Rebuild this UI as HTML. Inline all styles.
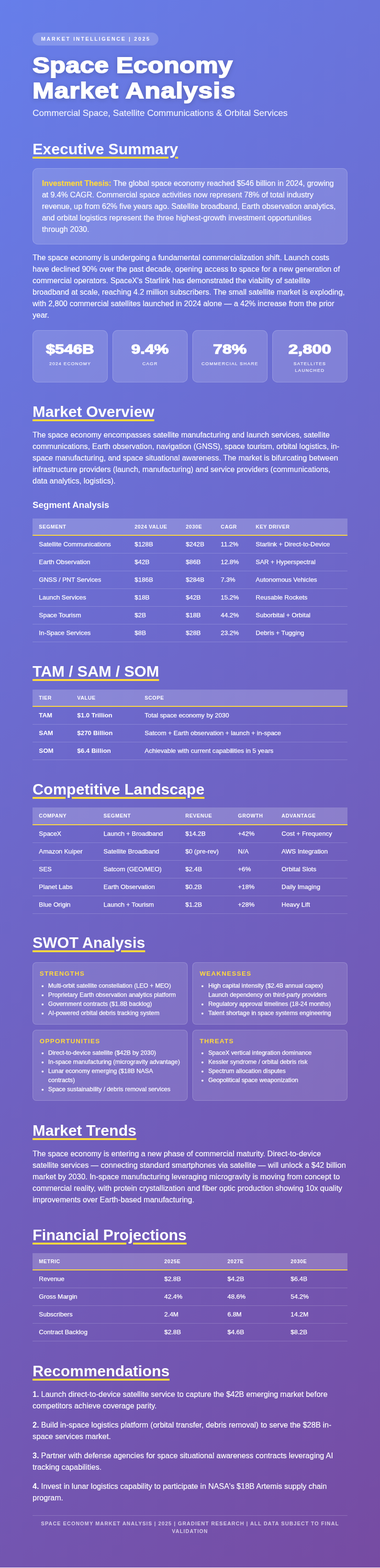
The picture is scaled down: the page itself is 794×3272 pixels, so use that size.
<!DOCTYPE html>
<html lang="en">
<head>
<meta charset="utf-8">
<title>Space Economy Market Analysis</title>
<style>
*{box-sizing:border-box;margin:0;padding:0}
html,body{background:#fff}
html{height:3272px}
body{font-family:"Liberation Sans",Arial,Helvetica,sans-serif;font-size:16px;line-height:24px;color:#fff;width:794px;height:3272px;overflow:hidden;-webkit-text-stroke:.15px #fff}
b,h2,h3,h4,th,td.b,.badge,.footer{-webkit-text-stroke:0}
.thesis b{-webkit-text-stroke:.2px #ffd93d}
.subtitle{-webkit-text-stroke:.15px rgba(255,255,255,.9)}
td,.sw li{-webkit-text-stroke:.25px #fff}
td.b{-webkit-text-stroke:0}
.page{width:794px;height:3271px;padding:68px 68px 0;background:linear-gradient(135deg,#667eea 0%,#764ba2 100%);overflow:hidden}
.badge{display:block;width:263px;height:27px;background:rgba(255,255,255,.2);padding:5px 0 0 18px;border-radius:14px;font-size:10.67px;line-height:16px;letter-spacing:2.67px;text-transform:uppercase;font-weight:700;white-space:nowrap}
h1{font-size:46px;font-weight:700;line-height:53px;height:106px;-webkit-text-stroke:2px #fff;text-shadow:0 2px 10px rgba(0,0,0,.25);margin-top:15px;transform:scaleX(1.165);transform-origin:0 50%;white-space:nowrap}
h1 .a{letter-spacing:.27px}
h1 .b{letter-spacing:1.05px}
.subtitle{font-size:18.67px;line-height:28px;height:28px;color:rgba(255,255,255,.9);margin-top:6px}
h2{font-size:32px;line-height:48px;height:48px;font-weight:700;margin-top:37px;text-decoration:underline;text-decoration-color:#ffd93d;text-decoration-thickness:4px;text-underline-offset:5px}
h2.m36{margin-top:36px}
h2.m38{margin-top:38px}
h3{font-size:18.67px;line-height:28px;height:28px;font-weight:700;margin-top:24px}
p{margin-top:16px}
h2+p{margin-top:13px}
.thesis{background:rgba(255,255,255,.15);border:1px solid rgba(255,255,255,.2);border-radius:10.67px;padding:19px 18.67px 18px;margin-top:16px;height:159px}
.thesis b{color:#ffd93d}
.stats{display:flex;gap:9.5px;margin-top:19px;height:109px}
.stat{flex:1 1 0;background:rgba(255,255,255,.15);border:1px solid rgba(255,255,255,.2);border-radius:10.67px;text-align:center;padding:17px 17.3px 0;height:109px}
.stat .v{font-size:28px;font-weight:700;line-height:41px;height:41px;-webkit-text-stroke:1.4px #fff;transform:scaleX(1.22);white-space:nowrap;position:relative;top:1px}
.stat .v.s2{transform:scaleX(1.225)}
.stat .v.s3{transform:scaleX(1.25)}
.stat .v.s4{transform:scaleX(1.275)}
.stat .l{font-size:9.33px;line-height:14px;letter-spacing:1.33px;text-transform:uppercase;color:rgba(255,255,255,.88);-webkit-text-stroke:.2px rgba(255,255,255,.88);margin-top:4px}
table{width:658px;table-layout:fixed;border-collapse:separate;border-spacing:0;margin-top:14px}
th{background:rgba(255,255,255,.2);text-align:left;font-size:10.67px;line-height:16px;height:36px;letter-spacing:.62px;text-transform:uppercase;font-weight:700;padding:9px 13.33px 9px;border-bottom:2px solid #ffd93d;white-space:nowrap;vertical-align:top}
table.h37 th{height:37px}
td{padding:8px 13.33px;font-size:13.33px;line-height:20px;height:37px;border-bottom:1px solid rgba(255,255,255,.2);white-space:nowrap;vertical-align:top}
td.b{font-weight:700}
.swot{display:grid;grid-template-columns:1fr 1fr;grid-template-rows:130px 148px;gap:11px 10.67px;margin-top:17px}
.sw{background:rgba(255,255,255,.12);border:1px solid rgba(255,255,255,.2);border-radius:8px;padding:13px 13.8px 0}
.sw h4{font-size:13.33px;line-height:20px;height:20px;letter-spacing:1.37px;text-transform:uppercase;color:#ffd93d;font-weight:700;margin-bottom:6px}
.sw.r2 h4{margin-bottom:5px}
.sw ul{padding-left:18px;font-size:12.67px;line-height:19px}
.footer{margin-top:24px;border-top:1px solid rgba(255,255,255,.2);padding-top:8px;text-align:center;font-size:10.67px;line-height:16px;letter-spacing:1.2px;text-transform:uppercase;color:rgba(255,255,255,.7);font-weight:700}
</style>
</head>
<body>
<div class="page">
<div class="hdr">
<div class="badge">Market Intelligence | 2025</div>
<h1><span class="a">Space Economy</span><br><span class="b">Market Analysis</span></h1>
<div class="subtitle">Commercial Space, Satellite Communications &amp; Orbital Services</div>
</div>

<h2>Executive Summary</h2>
<div class="thesis"><b>Investment Thesis:</b> The global space economy reached $546 billion in 2024, growing at 9.4% CAGR. Commercial space activities now represent 78% of total industry revenue, up from 62% five years ago. Satellite broadband, Earth observation analytics, and orbital logistics represent the three highest-growth investment opportunities through 2030.</div>
<p>The space economy is undergoing a fundamental commercialization shift. Launch costs have declined 90% over the past decade, opening access to space for a new generation of commercial operators. SpaceX's Starlink has demonstrated the viability of satellite broadband at scale, reaching 4.2 million subscribers. The small satellite market is exploding, with 2,800 commercial satellites launched in 2024 alone — a 42% increase from the prior year.</p>
<div class="stats">
<div class="stat"><div class="v">$546B</div><div class="l">2024 Economy</div></div>
<div class="stat"><div class="v s2">9.4%</div><div class="l">CAGR</div></div>
<div class="stat"><div class="v s3">78%</div><div class="l">Commercial Share</div></div>
<div class="stat"><div class="v s4">2,800</div><div class="l">Satellites Launched</div></div>
</div>

<h2>Market Overview</h2>
<p>The space economy encompasses satellite manufacturing and launch services, satellite communications, Earth observation, navigation (GNSS), space tourism, orbital logistics, in-space manufacturing, and space situational awareness. The market is bifurcating between infrastructure providers (launch, manufacturing) and service providers (communications, data analytics, logistics).</p>
<h3>Segment Analysis</h3>
<table>
<colgroup><col style="width:200px"><col style="width:107px"><col style="width:73px"><col style="width:73px"><col></colgroup>
<thead><tr><th>Segment</th><th>2024 Value</th><th>2030E</th><th>CAGR</th><th>Key Driver</th></tr></thead>
<tbody>
<tr><td>Satellite Communications</td><td>$128B</td><td>$242B</td><td>11.2%</td><td>Starlink + Direct-to-Device</td></tr>
<tr><td>Earth Observation</td><td>$42B</td><td>$86B</td><td>12.8%</td><td>SAR + Hyperspectral</td></tr>
<tr><td>GNSS / PNT Services</td><td>$186B</td><td>$284B</td><td>7.3%</td><td>Autonomous Vehicles</td></tr>
<tr><td>Launch Services</td><td>$18B</td><td>$42B</td><td>15.2%</td><td>Reusable Rockets</td></tr>
<tr><td>Space Tourism</td><td>$2B</td><td>$18B</td><td>44.2%</td><td>Suborbital + Orbital</td></tr>
<tr><td>In-Space Services</td><td>$8B</td><td>$28B</td><td>23.2%</td><td>Debris + Tugging</td></tr>
</tbody>
</table>

<h2>TAM / SAM / SOM</h2>
<table>
<colgroup><col style="width:80px"><col style="width:141px"><col></colgroup>
<thead><tr><th>Tier</th><th>Value</th><th>Scope</th></tr></thead>
<tbody>
<tr><td class="b">TAM</td><td class="b">$1.0 Trillion</td><td>Total space economy by 2030</td></tr>
<tr><td class="b">SAM</td><td class="b">$270 Billion</td><td>Satcom + Earth observation + launch + in-space</td></tr>
<tr><td class="b">SOM</td><td class="b">$6.4 Billion</td><td>Achievable with current capabilities in 5 years</td></tr>
</tbody>
</table>

<h2>Competitive Landscape</h2>
<table class="h37">
<colgroup><col style="width:135px"><col style="width:171px"><col style="width:110px"><col style="width:91px"><col></colgroup>
<thead><tr><th>Company</th><th>Segment</th><th>Revenue</th><th>Growth</th><th>Advantage</th></tr></thead>
<tbody>
<tr><td>SpaceX</td><td>Launch + Broadband</td><td>$14.2B</td><td>+42%</td><td>Cost + Frequency</td></tr>
<tr><td>Amazon Kuiper</td><td>Satellite Broadband</td><td>$0 (pre-rev)</td><td>N/A</td><td>AWS Integration</td></tr>
<tr><td>SES</td><td>Satcom (GEO/MEO)</td><td>$2.4B</td><td>+6%</td><td>Orbital Slots</td></tr>
<tr><td>Planet Labs</td><td>Earth Observation</td><td>$0.2B</td><td>+18%</td><td>Daily Imaging</td></tr>
<tr><td>Blue Origin</td><td>Launch + Tourism</td><td>$1.2B</td><td>+28%</td><td>Heavy Lift</td></tr>
</tbody>
</table>

<h2 class="m36">SWOT Analysis</h2>
<div class="swot">
<div class="sw"><h4>Strengths</h4><ul><li>Multi-orbit satellite constellation (LEO + MEO)</li><li>Proprietary Earth observation analytics platform</li><li>Government contracts ($1.8B backlog)</li><li>AI-powered orbital debris tracking system</li></ul></div>
<div class="sw"><h4>Weaknesses</h4><ul><li>High capital intensity ($2.4B annual capex)<br>Launch dependency on third-party providers</li><li>Regulatory approval timelines (18-24 months)</li><li>Talent shortage in space systems engineering</li></ul></div>
<div class="sw r2"><h4>Opportunities</h4><ul><li>Direct-to-device satellite ($42B by 2030)</li><li>In-space manufacturing (microgravity advantage)</li><li>Lunar economy emerging ($18B NASA contracts)</li><li>Space sustainability / debris removal services</li></ul></div>
<div class="sw r2"><h4>Threats</h4><ul><li>SpaceX vertical integration dominance</li><li>Kessler syndrome / orbital debris risk</li><li>Spectrum allocation disputes</li><li>Geopolitical space weaponization</li></ul></div>
</div>

<h2 class="m38">Market Trends</h2>
<p>The space economy is entering a new phase of commercial maturity. Direct-to-device satellite services — connecting standard smartphones via satellite — will unlock a $42 billion market by 2030. In-space manufacturing leveraging microgravity is moving from concept to commercial reality, with protein crystallization and fiber optic production showing 10x quality improvements over Earth-based manufacturing.</p>

<h2>Financial Projections</h2>
<table>
<colgroup><col style="width:262px"><col style="width:132px"><col style="width:132px"><col></colgroup>
<thead><tr><th>Metric</th><th>2025E</th><th>2027E</th><th>2030E</th></tr></thead>
<tbody>
<tr><td>Revenue</td><td>$2.8B</td><td>$4.2B</td><td>$6.4B</td></tr>
<tr><td>Gross Margin</td><td>42.4%</td><td>48.6%</td><td>54.2%</td></tr>
<tr><td>Subscribers</td><td>2.4M</td><td>6.8M</td><td>14.2M</td></tr>
<tr><td>Contract Backlog</td><td>$2.8B</td><td>$4.6B</td><td>$8.2B</td></tr>
</tbody>
</table>

<h2 class="m38">Recommendations</h2>
<p><b>1.</b> Launch direct-to-device satellite service to capture the $42B emerging market before competitors achieve coverage parity.</p>
<p><b>2.</b> Build in-space logistics platform (orbital transfer, debris removal) to serve the $28B in-space services market.</p>
<p><b>3.</b> Partner with defense agencies for space situational awareness contracts leveraging AI tracking capabilities.</p>
<p><b>4.</b> Invest in lunar logistics capability to participate in NASA's $18B Artemis supply chain program.</p>
<div class="footer">Space Economy Market Analysis | 2025 | Gradient Research | All Data Subject to Final Validation</div>
</div>
</body>
</html>
